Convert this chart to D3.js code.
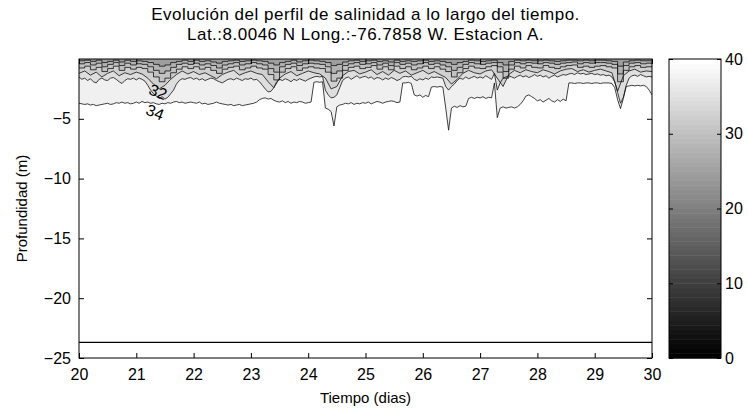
<!DOCTYPE html>
<html><head><meta charset="utf-8">
<script src="https://cdn.jsdelivr.net/npm/d3@7"></script>
<style>
body{margin:0;background:#fff}
text{font-family:"Liberation Sans",Arial,Helvetica,sans-serif;fill:#000}
</style>
</head><body>
<svg id="chart" width="748" height="411"></svg>
<script>
// ---------------- data ----------------
const titleLines = ["Evolución del perfil de salinidad a lo largo del tiempo.",
                    "Lat.:8.0046 N Long.:-76.7858 W. Estacion A."];
const xLabel = "Tiempo (dias)";
const yLabel = "Profundidad (m)";
const xTicks = [20,21,22,23,24,25,26,27,28,29,30];
const yTicks = [-5,-10,-15,-20,-25];
const cbTicks = [0,10,20,30,40];
const xDomain = [20,30];
const yDomain = [-25,0];
const cbDomain = [0,40];
const fineStep = 0.05;   // days between samples of the fine isolines
const coarseStep = 0.1;  // days between samples of the near-surface isolines

// depth (m) of the 34 isohaline, every 0.05 day from day 20 to 30
const d34 = [
 -3.7,-3.75,-3.8,-3.75,-3.85,-3.8,-3.9,-3.85,-3.8,-3.75,
 -3.7,-3.8,-3.75,-3.65,-3.7,-3.6,-3.7,-3.65,-3.75,-3.7,
 -3.6,-3.7,-3.55,-3.65,-3.6,-3.7,-3.65,-3.75,-3.8,-3.7,
 -3.75,-3.65,-3.7,-3.6,-3.55,-3.65,-3.6,-3.7,-3.65,-3.6,
 -3.65,-3.7,-3.6,-3.75,-3.7,-3.8,-3.75,-3.7,-3.6,-3.7,
 -3.75,-3.8,-3.85,-3.8,-3.9,-3.85,-3.8,-3.9,-3.85,-3.8,
 -3.75,-3.7,-3.6,-3.4,-3.3,-3.25,-3.35,-3.3,-3.45,-3.55,
 -3.6,-3.5,-3.65,-3.55,-3.7,-3.6,-3.65,-3.55,-3.6,-3.7,
 -3.65,-3.6,-1.95,-1.9,-1.95,-1.9,-4.1,-4.2,-4.4,-5.6,
 -4.0,-3.85,-3.8,-3.7,-3.75,-3.65,-3.8,-3.7,-3.75,-3.65,
 -3.7,-3.6,-3.75,-3.65,-3.55,-3.6,-3.7,-3.6,-3.55,-3.5,
 -3.55,-3.65,-3.6,-2.0,-2.0,-1.95,-2.05,-3.0,-3.1,-3.0,
 -3.2,-3.05,-3.15,-2.35,-2.3,-2.35,-2.3,-2.35,-4.1,-5.95,
 -4.1,-3.95,-4.05,-3.9,-4.0,-3.95,-3.3,-3.2,-3.3,-3.2,
 -3.25,-3.15,-3.3,-3.2,-3.25,-2.0,-4.9,-4.1,-4.0,-4.1,
 -4.05,-4.0,-4.1,-4.0,-3.8,-3.5,-3.1,-3.0,-3.15,-3.3,
 -3.5,-3.4,-3.6,-3.45,-3.3,-3.5,-3.6,-3.4,-3.55,-3.35,
 -3.5,-2.0,-2.0,-2.05,-2.0,-2.0,-2.05,-2.0,-2.0,-2.05,
 -2.0,-2.0,-2.05,-2.0,-2.0,-2.0,-2.05,-2.4,-3.4,-4.15,
 -3.3,-2.3,-2.25,-2.2,-2.25,-2.2,-2.25,-2.2,-2.3,-2.6,
 -3.0];

// depth (m) of the 32 isohaline, every 0.05 day
const d32 = [
 -1.5,-1.7,-1.6,-1.8,-1.65,-1.9,-2.0,-1.7,-1.6,-1.75,
 -1.8,-1.6,-1.55,-1.7,-1.9,-2.05,-1.8,-1.65,-1.7,-1.6,
 -1.75,-1.6,-1.7,-1.85,-2.2,-2.6,-2.9,-3.1,-3.3,-3.15,
 -3.35,-3.2,-2.9,-2.6,-2.1,-1.8,-1.65,-1.7,-1.6,-1.55,
 -1.7,-1.6,-1.75,-1.65,-1.8,-1.7,-1.6,-1.65,-1.8,-1.9,
 -2.0,-1.85,-1.7,-1.65,-1.75,-1.6,-1.7,-1.8,-1.65,-1.7,
 -1.6,-1.75,-1.7,-1.9,-2.2,-2.5,-2.75,-2.7,-2.4,-1.9,
 -1.7,-1.8,-1.65,-1.75,-1.9,-1.7,-1.8,-1.65,-1.75,-1.85,
 -1.7,-1.6,-1.5,-1.45,-1.5,-1.45,-2.6,-3.0,-3.25,-3.2,
 -3.0,-2.4,-1.8,-1.6,-1.5,-1.7,-1.55,-1.4,-1.6,-1.5,
 -1.45,-1.6,-1.5,-1.7,-1.55,-1.6,-1.75,-1.6,-1.7,-1.55,
 -1.65,-1.8,-1.7,-1.5,-1.45,-1.5,-1.45,-1.7,-1.8,-1.65,
 -1.75,-1.6,-1.7,-1.5,-1.55,-1.5,-1.55,-1.6,-2.3,-2.6,
 -2.3,-2.1,-1.8,-1.6,-1.7,-1.5,-1.65,-1.55,-1.45,-1.6,
 -1.5,-1.6,-1.4,-1.55,-1.7,-1.2,-2.6,-2.0,-1.6,-1.5,
 -1.4,-1.5,-1.6,-1.45,-1.35,-1.5,-1.4,-1.55,-1.45,-1.3,
 -1.45,-1.35,-1.5,-1.4,-1.6,-1.45,-1.35,-1.5,-1.4,-1.3,
 -1.35,-1.25,-1.2,-1.3,-1.15,-1.25,-1.2,-1.3,-1.25,-1.2,
 -1.3,-1.25,-1.35,-1.3,-1.4,-1.35,-1.5,-1.9,-2.8,-3.7,
 -3.2,-2.2,-1.6,-1.4,-1.35,-1.45,-1.3,-1.4,-1.5,-1.45,
 -1.5];

// near-surface isohalines, every 0.1 day
const d30 = [
 -1.2,-1.0,-1.35,-1.1,-1.5,-1.2,-1.0,-1.4,-1.15,-1.3,
 -1.1,-1.25,-1.6,-2.1,-2.5,-2.2,-1.7,-1.3,-1.0,-1.25,
 -1.05,-1.3,-1.15,-1.4,-1.65,-1.3,-1.1,-0.95,-1.35,-1.15,
 -1.0,-1.2,-1.3,-1.9,-2.4,-1.6,-1.25,-1.05,-1.4,-1.2,
 -1.0,-1.15,-1.25,-1.6,-2.5,-2.3,-1.4,-1.05,-0.95,-1.25,
 -1.1,-0.9,-1.3,-1.05,-1.35,-0.95,-1.2,-1.0,-1.35,-1.15,
 -0.95,-1.25,-1.05,-1.3,-1.55,-2.1,-1.7,-1.2,-0.95,-1.15,
 -1.25,-1.0,-0.9,-1.6,-2.3,-1.3,-0.95,-1.15,-0.9,-1.05,
 -1.15,-0.9,-1.05,-1.25,-1.0,-0.85,-0.8,-1.05,-0.9,-1.1,
 -0.95,-0.85,-1.0,-1.15,-2.7,-1.4,-1.0,-0.85,-1.1,-1.0,
 -1.05];
const d28 = [
 -0.75,-0.6,-0.9,-0.7,-1.05,-0.8,-0.6,-0.95,-0.7,-0.85,
 -0.7,-0.8,-1.1,-1.5,-1.9,-1.6,-1.15,-0.85,-0.65,-0.8,
 -0.65,-0.85,-0.7,-0.95,-1.2,-0.85,-0.7,-0.6,-0.9,-0.75,
 -0.6,-0.75,-0.85,-1.3,-1.75,-1.1,-0.8,-0.65,-0.95,-0.75,
 -0.65,-0.75,-0.8,-1.1,-1.85,-1.6,-0.95,-0.7,-0.6,-0.8,
 -0.7,-0.55,-0.85,-0.65,-0.9,-0.6,-0.8,-0.65,-0.9,-0.75,
 -0.6,-0.8,-0.65,-0.85,-1.05,-1.5,-1.15,-0.8,-0.6,-0.75,
 -0.8,-0.65,-0.55,-1.1,-1.6,-0.85,-0.6,-0.75,-0.55,-0.7,
 -0.75,-0.55,-0.7,-0.8,-0.65,-0.55,-0.5,-0.7,-0.6,-0.7,
 -0.6,-0.55,-0.65,-0.75,-1.9,-0.95,-0.65,-0.55,-0.7,-0.65,
 -0.7];
const d26 = [
 -0.4,-0.3,-0.5,-0.35,-0.65,-0.45,-0.3,-0.55,-0.35,-0.5,
 -0.4,-0.45,-0.65,-0.95,-1.2,-1.0,-0.7,-0.45,-0.35,-0.45,
 -0.35,-0.5,-0.4,-0.55,-0.75,-0.5,-0.4,-0.3,-0.5,-0.4,
 -0.3,-0.4,-0.5,-0.8,-1.1,-0.65,-0.45,-0.35,-0.55,-0.4,
 -0.35,-0.4,-0.45,-0.65,-1.2,-1.0,-0.55,-0.4,-0.3,-0.45,
 -0.4,-0.3,-0.5,-0.35,-0.55,-0.3,-0.45,-0.35,-0.5,-0.4,
 -0.3,-0.45,-0.35,-0.5,-0.65,-0.95,-0.7,-0.45,-0.3,-0.4,
 -0.45,-0.35,-0.3,-0.65,-1.05,-0.5,-0.3,-0.4,-0.3,-0.35,
 -0.4,-0.3,-0.35,-0.45,-0.35,-0.3,-0.25,-0.4,-0.3,-0.35,
 -0.3,-0.3,-0.35,-0.45,-1.25,-0.55,-0.35,-0.3,-0.4,-0.35,
 -0.4];
const d24 = [
 -0.15,-0.1,-0.2,-0.1,-0.3,-0.2,-0.1,-0.25,-0.1,-0.2,
 -0.15,-0.2,-0.3,-0.45,-0.6,-0.5,-0.3,-0.2,-0.1,-0.2,
 -0.1,-0.2,-0.15,-0.25,-0.35,-0.2,-0.15,-0.1,-0.2,-0.15,
 -0.1,-0.15,-0.2,-0.35,-0.5,-0.3,-0.2,-0.1,-0.25,-0.15,
 -0.1,-0.15,-0.2,-0.3,-0.55,-0.45,-0.25,-0.15,-0.1,-0.2,
 -0.15,-0.1,-0.2,-0.15,-0.25,-0.1,-0.2,-0.15,-0.2,-0.15,
 -0.1,-0.2,-0.15,-0.2,-0.3,-0.45,-0.3,-0.2,-0.1,-0.15,
 -0.2,-0.15,-0.1,-0.3,-0.5,-0.2,-0.1,-0.15,-0.1,-0.15,
 -0.15,-0.1,-0.15,-0.2,-0.15,-0.1,-0.1,-0.15,-0.1,-0.15,
 -0.1,-0.1,-0.15,-0.2,-0.6,-0.25,-0.15,-0.1,-0.15,-0.15,
 -0.15];

const bottomDepth = -23.7;
const labelText = ["32","34"];
const labelT = [21.38, 21.33];
const labelD = [-2.75, -4.45];

// ---------------- layout ----------------
const plot = {left:79, right:652, top:59, bottom:358};
const cb = {left:669, right:721, top:59, bottom:358};
const svg = d3.select("#chart");
const fs = 16;

const x = d3.scaleLinear().domain(xDomain).range([plot.left, plot.right]);
const y = d3.scaleLinear().domain(yDomain).range([plot.bottom, plot.top]);

svg.append("defs").append("clipPath").attr("id","clip")
  .append("rect").attr("x",plot.left).attr("y",plot.top)
  .attr("width",plot.right-plot.left).attr("height",plot.bottom-plot.top);

const g = svg.append("g").attr("clip-path","url(#clip)");
g.append("rect").attr("x",plot.left).attr("y",plot.top)
  .attr("width",plot.right-plot.left).attr("height",plot.bottom-plot.top).attr("fill","#fff");

const tFine = d34.map((_,i)=>xDomain[0]+i*fineStep);
const tCoarse = d30.map((_,i)=>xDomain[0]+i*coarseStep);
const layers = [
  {d:d34, t:tFine,   fill:"#f0f0f0", curve:d3.curveLinear},
  {d:d32, t:tFine,   fill:"#dedede", curve:d3.curveLinear},
  {d:d30, t:tCoarse, fill:"#d0d0d0", curve:d3.curveLinear},
  {d:d28, t:tCoarse, fill:"#c2c2c2", curve:d3.curveStepAfter},
  {d:d26, t:tCoarse, fill:"#b2b2b2", curve:d3.curveStepAfter},
  {d:d24, t:tCoarse, fill:"#9e9e9e", curve:d3.curveStepAfter}
];
layers.forEach(L=>{
  const pts = L.d.map((v,i)=>[L.t[i], v]);
  g.append("path").datum(pts)
    .attr("fill", L.fill)
    .attr("d", d3.area().curve(L.curve).x(p=>x(p[0])).y0(y(0)).y1(p=>y(p[1])));
});
layers.forEach(L=>{
  const pts = L.d.map((v,i)=>[L.t[i], v]);
  g.append("path").datum(pts)
    .attr("fill","none").attr("stroke","#111").attr("stroke-width",0.8)
    .attr("d", d3.line().curve(L.curve).x(p=>x(p[0])).y(p=>y(p[1])));
});
// bottom line
g.append("line").attr("x1",x(xDomain[0])).attr("x2",x(xDomain[1]))
  .attr("y1",y(bottomDepth)).attr("y2",y(bottomDepth))
  .attr("stroke","#000").attr("stroke-width",1.2);

// contour labels
labelText.forEach((s,i)=>{
  svg.append("text")
    .attr("transform",`translate(${x(labelT[i])},${y(labelD[i])}) rotate(22)`)
    .attr("text-anchor","middle").attr("dy","0.35em")
    .attr("font-size",16).text(s);
});

// axes
const ax = svg.append("g").attr("transform",`translate(0,${plot.bottom})`)
  .call(d3.axisBottom(x).tickValues(xTicks).tickFormat(d3.format("d")).tickSizeInner(-5).tickSizeOuter(0).tickPadding(11));
const ay = svg.append("g").attr("transform",`translate(${plot.left},0)`)
  .call(d3.axisLeft(y).tickValues(yTicks).tickFormat(d3.format("d")).tickSizeInner(-5).tickSizeOuter(0).tickPadding(8));
const axT = svg.append("g").attr("transform",`translate(0,${plot.top})`)
  .call(d3.axisTop(x).tickValues(xTicks).tickFormat("").tickSizeInner(-5).tickSizeOuter(0));
const ayR = svg.append("g").attr("transform",`translate(${plot.right},0)`)
  .call(d3.axisRight(y).tickValues(yTicks).tickFormat("").tickSizeInner(-5).tickSizeOuter(0));
[ax,ay,axT,ayR].forEach(a=>{
  a.select(".domain").remove();
  a.selectAll("line").attr("stroke","#000");
  a.selectAll("text").attr("font-size",fs).attr("font-family",null);
});
svg.append("rect").attr("x",plot.left).attr("y",plot.top)
  .attr("width",plot.right-plot.left).attr("height",plot.bottom-plot.top)
  .attr("fill","none").attr("stroke","#000").attr("stroke-width",1);

// axis titles
svg.append("text").attr("x",(plot.left+plot.right)/2).attr("y",403)
  .attr("text-anchor","middle").attr("font-size",15).text(xLabel);
svg.append("text").attr("transform",`translate(27,${(plot.top+plot.bottom)/2}) rotate(-90)`)
  .attr("text-anchor","middle").attr("font-size",15).text(yLabel);
titleLines.forEach((s,i)=>{
  svg.append("text").attr("x",(plot.left+plot.right)/2).attr("y",20+i*19.5)
    .attr("text-anchor","middle").attr("font-size",17).attr("letter-spacing",0.5).text(s);
});

// colorbar
const cy = d3.scaleLinear().domain(cbDomain).range([cb.bottom, cb.top]);
const nLev = 64;
const levels = d3.range(nLev);
const lv = k => cbDomain[0]+k*(cbDomain[1]-cbDomain[0])/nLev;
svg.append("g").selectAll("rect").data(levels).join("rect")
  .attr("x",cb.left).attr("width",cb.right-cb.left)
  .attr("y",k=>cy(lv(k+1)))
  .attr("height",k=>cy(lv(k))-cy(lv(k+1))+0.5)
  .attr("fill",k=>d3.rgb(255*k/(nLev-1),255*k/(nLev-1),255*k/(nLev-1)));
const cbAx = svg.append("g").attr("transform",`translate(${cb.right},0)`)
  .call(d3.axisRight(cy).tickValues(cbTicks).tickFormat(d3.format("d")).tickSizeInner(-4).tickSizeOuter(0).tickPadding(4));
const cbAxL = svg.append("g").attr("transform",`translate(${cb.left},0)`)
  .call(d3.axisLeft(cy).tickValues(cbTicks).tickFormat("").tickSizeInner(-4).tickSizeOuter(0));
[cbAx,cbAxL].forEach(a=>{
  a.select(".domain").remove();
  a.selectAll("line").attr("stroke","#000");
  a.selectAll("text").attr("font-size",fs).attr("font-family",null);
});
svg.append("rect").attr("x",cb.left).attr("y",cb.top)
  .attr("width",cb.right-cb.left).attr("height",cb.bottom-cb.top)
  .attr("fill","none").attr("stroke","#000").attr("stroke-width",1);
</script>
</body></html>
